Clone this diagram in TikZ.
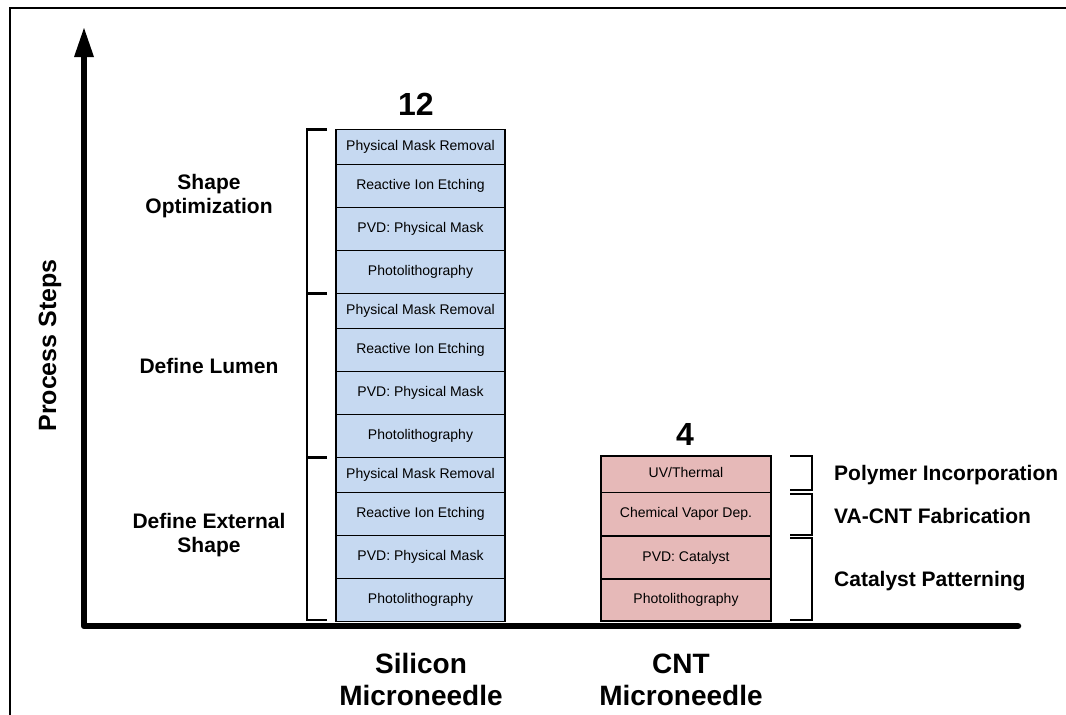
\documentclass[tikz,border=0pt]{standalone}
\usepackage{fontspec}
\setmainfont{Liberation Sans}
\usetikzlibrary{arrows.meta}
\definecolor{siblue}{HTML}{C6D9F1}
\definecolor{cntpink}{HTML}{E6B9B8}
\begin{document}
\begin{tikzpicture}[x=1pt,y=-1pt,
  frame/.style={line width=2pt},
  axisline/.style={line width=6.5pt, line join=round, line cap=round},
  stepbox/.style={draw, line width=1.3pt, anchor=north west, inner sep=0pt, outer sep=0pt,
    font=\fontsize{14}{16}\selectfont, text height=10pt, text depth=3pt},
  sibox/.style={stepbox, fill=siblue, minimum width=169pt},
  cntbox/.style={stepbox, fill=cntpink, minimum width=170pt},
  brk/.style={line width=2.2pt},
  grouplbl/.style={font=\bfseries\fontsize{21}{24}\selectfont, anchor=base, inner sep=0pt},
  sidelbl/.style={font=\bfseries\fontsize{21}{24}\selectfont, anchor=base west, inner sep=0pt},
  countlbl/.style={font=\bfseries\fontsize{32}{36}\selectfont, anchor=base, inner sep=0pt},
  catlbl/.style={font=\bfseries\fontsize{28}{32}\selectfont, anchor=base, inner sep=0pt},
  axislbl/.style={font=\bfseries\fontsize{25}{28}\selectfont, anchor=base, inner sep=0pt, rotate=90}
]
\useasboundingbox (0,0) rectangle (1066,715);
\fill[white] (0,0) rectangle (1066,715);

% outer frame (top and left edges visible)
\draw[frame] (10,715) -- (10,8) -- (1066,8);

% axes
\coordinate (ytop) at (84,28);
\coordinate (ybase) at (84,55);
\coordinate (orig) at (84,626);
\coordinate (xend) at (1018,626);
\draw[axisline] (ybase) -- (orig) -- (xend);
\fill (ytop) -- ([xshift=-10pt,yshift=-29pt]ytop) -- ([xshift=10pt,yshift=-29pt]ytop) -- cycle;

% silicon stack
\node[sibox, minimum height=35pt] (s12) at (336,129.5) {Physical Mask Removal};
\node[sibox, minimum height=43pt] (s11) at (s12.south west) {Reactive Ion Etching};
\node[sibox, minimum height=43pt] (s10) at (s11.south west) {PVD: Physical Mask};
\node[sibox, minimum height=43pt] (s9) at (s10.south west) {Photolithography};
\node[sibox, minimum height=35pt] (s8) at (s9.south west) {Physical Mask Removal};
\node[sibox, minimum height=43pt] (s7) at (s8.south west) {Reactive Ion Etching};
\node[sibox, minimum height=43pt] (s6) at (s7.south west) {PVD: Physical Mask};
\node[sibox, minimum height=43pt] (s5) at (s6.south west) {Photolithography};
\node[sibox, minimum height=35pt] (s4) at (s5.south west) {Physical Mask Removal};
\node[sibox, minimum height=43pt] (s3) at (s4.south west) {Reactive Ion Etching};
\node[sibox, minimum height=43pt] (s2) at (s3.south west) {PVD: Physical Mask};
\node[sibox, minimum height=43pt] (s1) at (s2.south west) {Photolithography};

% CNT stack
\node[cntbox, minimum height=36.5pt] (c4) at (601,456) {UV/Thermal};
\node[cntbox, minimum height=43.5pt] (c3) at (c4.south west) {Chemical Vapor Dep.};
\node[cntbox, minimum height=43pt] (c2) at (c3.south west) {PVD: Catalyst};
\node[cntbox, minimum height=42pt] (c1) at (c2.south west) {Photolithography};

% left brackets
\draw[brk] ([xshift=-9pt]s12.north west) -- ++(-20,0) |- ([xshift=-9pt]s9.south west);
\draw[brk] ([xshift=-9pt]s8.north west) -- ++(-20,0) |- ([xshift=-9pt]s5.south west);
\draw[brk] ([xshift=-9pt]s4.north west) -- ++(-20,0) |- ([xshift=-9pt,yshift=1.5pt]s1.south west);

% right brackets
\draw[brk] (790,456) -- (812,456) -- (812,490) -- (790,490);
\draw[brk] (790,494) -- (812,494) -- (812,535) -- (790,535);
\draw[brk] (790,538) -- (812,538) -- (812,620) -- (790,620);

% counts
\node[countlbl] (n12) at (416,115) {12};
\node[countlbl] (n4) at (685,445) {4};

% group labels (left)
\node[grouplbl] (gShapeA) at (209,189) {Shape};
\node[grouplbl] (gShapeB) at (209,213) {Optimization};
\node[grouplbl] (gLumen) at (209,373) {Define Lumen};
\node[grouplbl] (gExtA) at (209,528) {Define External};
\node[grouplbl] (gExtB) at (209,552) {Shape};

% group labels (right)
\node[sidelbl] (gPoly) at (834,480.5) {Polymer Incorporation};
\node[sidelbl] (gVA) at (834,523.5) {VA-CNT Fabrication};
\node[sidelbl] (gCat) at (834,586) {Catalyst Patterning};

% category labels
\node[catlbl] (silA) at (421,673) {Silicon};
\node[catlbl] (silB) at (421,705) {Microneedle};
\node[catlbl] (cntA) at (681,673) {CNT};
\node[catlbl] (cntB) at (681,705) {Microneedle};

% axis label
\node[axislbl] (ylbl) at (56,345.5) {Process Steps};
\end{tikzpicture}
\end{document}
